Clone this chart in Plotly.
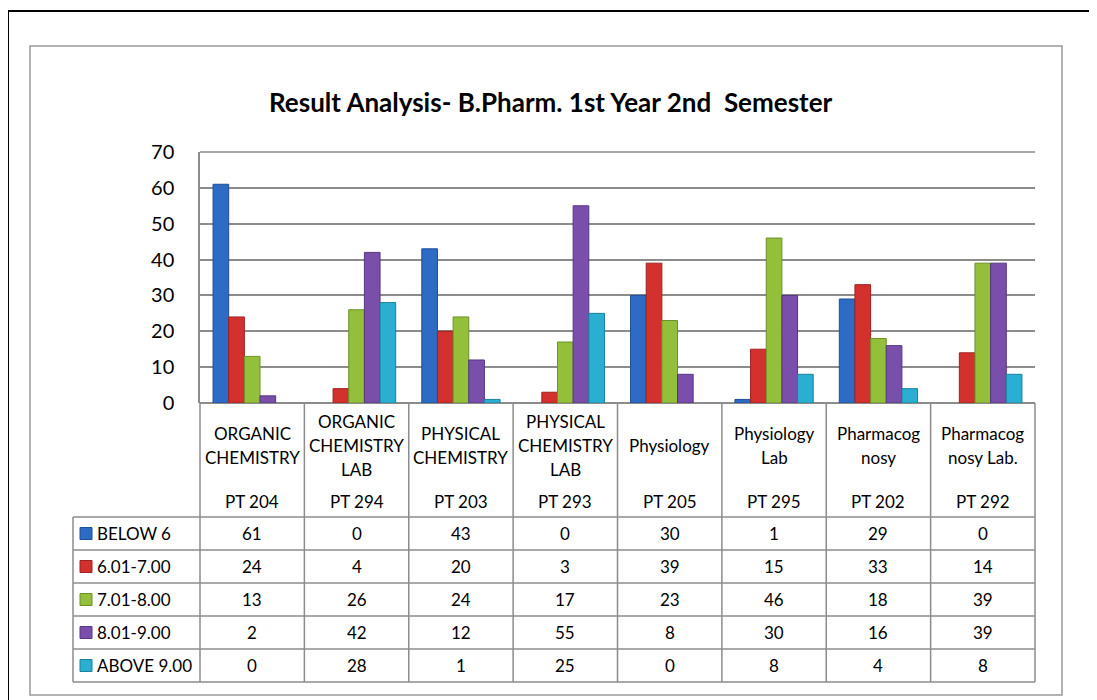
import plotly.graph_objects as go

# ---- data ----
subjects = ["ORGANIC<br>CHEMISTRY", "ORGANIC<br>CHEMISTRY<br>LAB", "PHYSICAL<br>CHEMISTRY",
            "PHYSICAL<br>CHEMISTRY<br>LAB", "Physiology", "Physiology<br>Lab",
            "Pharmacog<br>nosy", "Pharmacog<br>nosy Lab."]
codes = ["PT 204", "PT 294", "PT 203", "PT 293", "PT 205", "PT 295", "PT 202", "PT 292"]
series_names = ["BELOW 6", "6.01-7.00", "7.01-8.00", "8.01-9.00", "ABOVE 9.00"]
below_6 = [61, 0, 43, 0, 30, 1, 29, 0]
r_601_700 = [24, 4, 20, 3, 39, 15, 33, 14]
r_701_800 = [13, 26, 24, 17, 23, 46, 18, 39]
r_801_900 = [2, 42, 12, 55, 8, 30, 16, 39]
above_9 = [0, 28, 1, 25, 0, 8, 4, 8]
series_values = [below_6, r_601_700, r_701_800, r_801_900, above_9]
colors = ["#2D6BC4", "#D3312D", "#93BF3A", "#7A4FAB", "#2AAFD2"]
edge_colors = ["#1F4F96", "#9E2220", "#6C9128", "#573680", "#1C8099"]

OFF = 8  # page body margin
W, H = 1097 - OFF, 700 - OFF
L, R, T, B = 200, 1035, 152, 403
FONT = "Lato, Carlito, Calibri, Noto Sans, sans-serif"
GRID = "#8C8C8C"

def xp(px):
    return (px - L) / (R - L)

def yp(py):
    return (B - py) / (B - T)

n = len(codes)
idx = list(range(n))

fig = go.Figure()
for name, vals, c, ec in zip(series_names, series_values, colors, edge_colors):
    fig.add_trace(go.Bar(x=idx, y=vals, name=name,
                         marker=dict(color=c, line=dict(color=ec, width=[0 if v == 0 else 1 for v in vals])),
                         showlegend=False))

shapes = []
annotations = []

# outer frames
shapes.append(dict(type="line", xref="paper", yref="paper", x0=xp(8), x1=xp(1100), y0=yp(11), y1=yp(11),
                   line=dict(color="#000000", width=2)))
shapes.append(dict(type="line", xref="paper", yref="paper", x0=xp(8), x1=xp(8), y0=yp(11), y1=yp(705),
                   line=dict(color="#000000", width=2)))
shapes.append(dict(type="rect", xref="paper", yref="paper", x0=xp(30), x1=xp(1062), y0=yp(46), y1=yp(695),
                   line=dict(color="#9A9A9A", width=1.5)))
# top gridline of plot area (at 70)
shapes.append(dict(type="line", xref="paper", yref="paper", x0=0, x1=1, y0=1, y1=1,
                   line=dict(color=GRID, width=1.5), layer="below"))

# table geometry
header_bottom = 517
row_h = 33
rows_bottom = header_bottom + row_h * len(series_names)
legend_left = 73

for i in range(n + 1):
    shapes.append(dict(type="line", xref="paper", yref="paper", x0=i / n, x1=i / n,
                       y0=yp(B), y1=yp(rows_bottom), line=dict(color=GRID, width=1.5)))
shapes.append(dict(type="line", xref="paper", yref="paper", x0=xp(legend_left), x1=xp(legend_left),
                   y0=yp(header_bottom), y1=yp(rows_bottom), line=dict(color=GRID, width=1.5)))
for k in range(len(series_names) + 1):
    yy = header_bottom + k * row_h
    shapes.append(dict(type="line", xref="paper", yref="paper", x0=xp(legend_left), x1=1,
                       y0=yp(yy), y1=yp(yy), line=dict(color=GRID, width=1.5)))

# header texts
for i, (s, c) in enumerate(zip(subjects, codes)):
    lines = s.split("<br>")
    start = 445 - (len(lines) - 1) * 24 / 2
    for j, ln in enumerate(lines):
        annotations.append(dict(x=i, xref="x", y=yp(start + j * 24), yref="paper", text=ln,
                                showarrow=False, font=dict(family=FONT, size=17, color="#000"),
                                xanchor="center", yanchor="middle"))
    annotations.append(dict(x=i, xref="x", y=yp(501), yref="paper", text=c,
                            showarrow=False, font=dict(family=FONT, size=17, color="#000"),
                            xanchor="center", yanchor="middle"))

# data cells + legend keys
for k, (name, vals, col, ec) in enumerate(zip(series_names, series_values, colors, edge_colors)):
    cy = header_bottom + k * row_h + row_h / 2
    for i, v in enumerate(vals):
        annotations.append(dict(x=i, xref="x", y=yp(cy), yref="paper", text=str(v),
                                showarrow=False, font=dict(family=FONT, size=17, color="#000"),
                                xanchor="center", yanchor="middle"))
    shapes.append(dict(type="rect", xref="paper", yref="paper", x0=xp(80), x1=xp(92),
                       y0=yp(cy - 6), y1=yp(cy + 6), fillcolor=col, line=dict(color=ec, width=1)))
    annotations.append(dict(x=xp(95), xref="paper", y=yp(cy), yref="paper", text=name,
                            showarrow=False, font=dict(family=FONT, size=17, color="#000"),
                            xanchor="left", yanchor="middle"))

# title
annotations.append(dict(x=xp(551), xref="paper", y=yp(102), yref="paper",
                        text="<b>Result Analysis- B.Pharm. 1st Year 2nd  Semester</b>",
                        showarrow=False, font=dict(family=FONT, size=26, color="#000"),
                        xanchor="center", yanchor="middle"))

fig.update_layout(
    width=W, height=H,
    margin=dict(l=L - OFF, r=1097 - R, t=T - OFF, b=700 - B),
    paper_bgcolor="white", plot_bgcolor="white",
    barmode="group", bargap=0.25, bargroupgap=0,
    shapes=shapes, annotations=annotations,
    xaxis=dict(range=[-0.5, n - 0.5], showticklabels=False, showgrid=False, zeroline=False,
               showline=False, ticks=""),
    yaxis=dict(range=[0, 70], dtick=10, showgrid=True, gridcolor=GRID, gridwidth=1.5,
               zeroline=True, zerolinecolor=GRID, zerolinewidth=1.5,
               showline=True, linecolor=GRID, linewidth=1.5, ticks="",
               ticklabelstandoff=20,
               tickfont=dict(family=FONT, size=20, color="#000")),
)

fig.write_html("out.html")
